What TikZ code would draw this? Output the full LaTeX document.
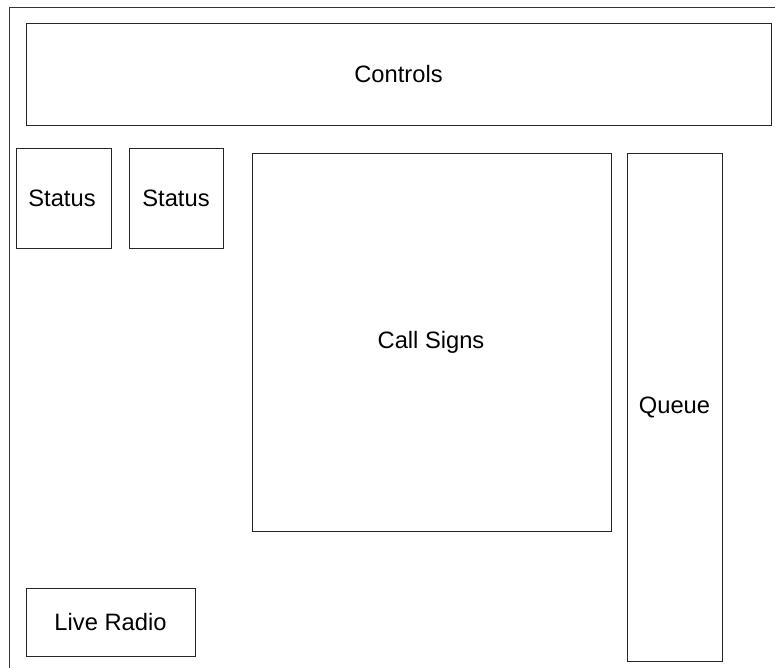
\documentclass[tikz,border=0pt]{standalone}
\usepackage{fontspec}
\setmainfont{Liberation Sans}
\begin{document}
\begin{tikzpicture}[x=1bp,y=-1bp,
  panel/.style={draw=black!85,line width=0.9bp},
  lbl/.style={font=\fontsize{23.8}{28}\selectfont,text=black}]
\useasboundingbox (0,0) rectangle (775,668);
\clip (0,0) rectangle (775,668);
% outer window frame (runs off the right and bottom edges)
\draw[draw=black!80,line width=0.9bp] (9,7) rectangle (790,690);
% panels
\draw[panel] (26,23) rectangle (771,125);
\node[lbl] (controls) at (398.5,74) {Controls};
\draw[panel] (16,148) rectangle (111,248);
\node[lbl] (status1) at (62,198) {Status};
\draw[panel] (129,148) rectangle (223,248);
\node[lbl] (status2) at (176,198) {Status};
\draw[panel] (252,153) rectangle (611,531);
\node[lbl] (calls) at (431,342) {Call Signs};
\draw[panel] (627,153) rectangle (722,661);
\node[lbl] (queue) at (674.5,407) {Queue};
\draw[panel] (26,588) rectangle (195,656);
\node[lbl] (radio) at (110.5,622) {Live Radio};
\end{tikzpicture}
\end{document}
